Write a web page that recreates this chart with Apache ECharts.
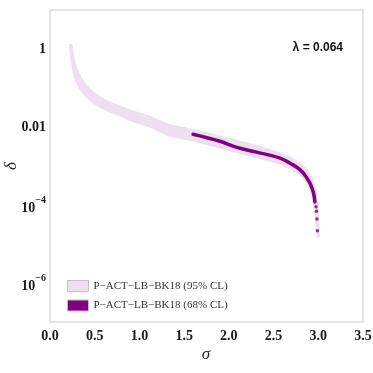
<!DOCTYPE html>
<html>
<head>
<meta charset="utf-8">
<script src="https://cdn.jsdelivr.net/npm/echarts@6/dist/echarts.min.js"></script>
<style>
html, body { margin: 0; padding: 0; background: #fff; }
#main { width: 373px; height: 373px; }
</style>
</head>
<body>
<div id="main"></div>
<script>
// 95% CL band: upper-right edge, top to bottom
var outerSigma = [0.25, 0.275, 0.31, 0.36, 0.43, 0.52, 0.63, 0.76, 0.90, 1.1, 1.34, 1.6, 1.9, 2.09, 2.4, 2.57, 2.69, 2.80, 2.88, 2.93, 2.97, 2.995, 3.01, 3.015];
var outerDelta = [1.32, 0.562, 0.316, 0.178, 0.107, 0.0708, 0.0501, 0.038, 0.0282, 0.02, 0.012, 0.00891, 0.00603, 0.00468, 0.00302, 0.00224, 0.00174, 0.0012, 8.3e-4, 5.4e-4, 3.0e-4, 1.26e-4, 4.5e-5, 1.5e-5];
// 95% CL band: lower-left edge, top to bottom
var innerSigma = [0.215, 0.225, 0.245, 0.275, 0.32, 0.39, 0.48, 0.60, 0.75, 0.90, 1.1, 1.34, 1.6, 1.9, 2.09, 2.4, 2.57, 2.69, 2.80, 2.87, 2.90, 2.94, 2.965, 2.98];
var innerDelta = [1.32, 0.631, 0.316, 0.166, 0.1, 0.0603, 0.0398, 0.0275, 0.02, 0.0141, 0.01, 0.00562, 0.00427, 0.00282, 0.00214, 0.00138, 0.0011, 8.1e-4, 5.4e-4, 3.5e-4, 2.4e-4, 1.0e-4, 4.0e-5, 1.5e-5];
// 68% CL curve
var coreSigma = [1.6, 1.9, 2.09, 2.3, 2.573, 2.685, 2.76, 2.82, 2.87, 2.91, 2.945, 2.962];
var coreDelta = [6.5e-3, 4.3e-3, 3.0e-3, 2.3e-3, 1.6e-3, 1.17e-3, 9.3e-4, 7.1e-4, 5.0e-4, 3.5e-4, 2.1e-4, 1.2e-4];
var tailSigma = [2.975, 2.98, 2.985, 2.99];
var tailDelta = [9e-5, 6.9e-5, 4.4e-5, 2.2e-5];

var name95 = 'P\u2212ACT\u2212LB\u2212BK18 (95% CL)';
var name68 = 'P\u2212ACT\u2212LB\u2212BK18 (68% CL)';
var yTickExp = [0, -2, -4, -6];
var yTickText = ['1', '0.01', '{m|10}{s|\u22124}', '{m|10}{s|\u22126}'];

var light = '#eedff0';
var dark = '#800080';
var serif = '"Liberation Serif", "DejaVu Serif", serif';

var myChart = echarts.init(document.getElementById('main'));

var coreData = coreSigma.map(function (s, i) { return [s, coreDelta[i]]; });
var tailData = tailSigma.map(function (s, i) { return [s, tailDelta[i]]; });

var option = {
    animation: false,
    grid: {
        left: 50, right: 10, top: 10, bottom: 51,
        containLabel: false, outerBoundsMode: 'none',
        show: true, borderColor: '#dcdcdc', borderWidth: 1.5
    },
    legend: {
        orient: 'vertical', left: 62, top: 275,
        itemWidth: 21, itemHeight: 11, itemGap: 7.5,
        textStyle: { fontFamily: serif, fontSize: 11, color: '#333' },
        data: [
            { name: name95, icon: 'rect', itemStyle: { color: light, borderColor: '#c8bcc8', borderWidth: 1 } },
            { name: name68, icon: 'rect', itemStyle: { color: dark, borderColor: '#c8bcc8', borderWidth: 1 } }
        ]
    },
    xAxis: {
        type: 'value', min: 0, max: 3.5, interval: 0.5,
        axisLine: { show: false }, axisTick: { show: false }, splitLine: { show: false },
        axisLabel: {
            margin: 7, fontFamily: serif, fontWeight: 'bold', fontSize: 14, color: '#1a1a1a',
            formatter: function (v) { return v.toFixed(1); }
        }
    },
    yAxis: {
        type: 'log', logBase: 10, min: 1e-7, max: 10, splitNumber: 8,
        axisLine: { show: false }, axisTick: { show: false }, splitLine: { show: false },
        axisLabel: {
            margin: 4, fontFamily: serif, fontWeight: 'bold', fontSize: 14, color: '#1a1a1a',
            formatter: function (v) {
                var k = yTickExp.indexOf(Math.round(Math.log10(v)));
                return k < 0 ? '' : yTickText[k];
            },
            rich: {
                m: { fontFamily: serif, fontWeight: 'bold', fontSize: 14, color: '#1a1a1a', lineHeight: 20, verticalAlign: 'bottom' },
                s: { fontFamily: serif, fontWeight: 'bold', fontSize: 10, color: '#1a1a1a', lineHeight: 10, verticalAlign: 'top' }
            }
        }
    },
    graphic: [
        {
            type: 'text', right: 30, top: 42,
            style: { text: '\u03bb = 0.064', font: 'bold 12px "Liberation Sans", Arial, sans-serif', fill: '#111' }
        },
        {
            type: 'text', x: 206, y: 355,
            style: { text: '\u03c3', font: 'italic 17px ' + serif, fill: '#222', align: 'center', verticalAlign: 'middle' }
        },
        {
            type: 'text', x: 12, y: 166, rotation: Math.PI / 2,
            style: { text: '\u03b4', font: 'italic 17px ' + serif, fill: '#222', align: 'center', verticalAlign: 'middle' }
        }
    ],
    series: [
        {
            name: name95, type: 'custom', clip: true, z: 1,
            itemStyle: { color: light },
            data: [[outerSigma[0], outerDelta[0]]],
            renderItem: function (params, api) {
                var pts = [];
                for (var i = 0; i < outerSigma.length; i++) pts.push(api.coord([outerSigma[i], outerDelta[i]]));
                for (var j = innerSigma.length - 1; j >= 0; j--) pts.push(api.coord([innerSigma[j], innerDelta[j]]));
                return { type: 'polygon', shape: { points: pts, smooth: 0.2 }, style: { fill: light } };
            }
        },
        {
            name: name68, type: 'line', smooth: 0.4, showSymbol: false, z: 3,
            itemStyle: { color: dark },
            lineStyle: { color: dark, width: 3.5, cap: 'round' },
            data: coreData
        },
        {
            name: name68, type: 'scatter', symbolSize: 3.5, z: 3,
            itemStyle: { color: dark },
            data: tailData
        }
    ]
};

myChart.setOption(option);
</script>
</body>
</html>
